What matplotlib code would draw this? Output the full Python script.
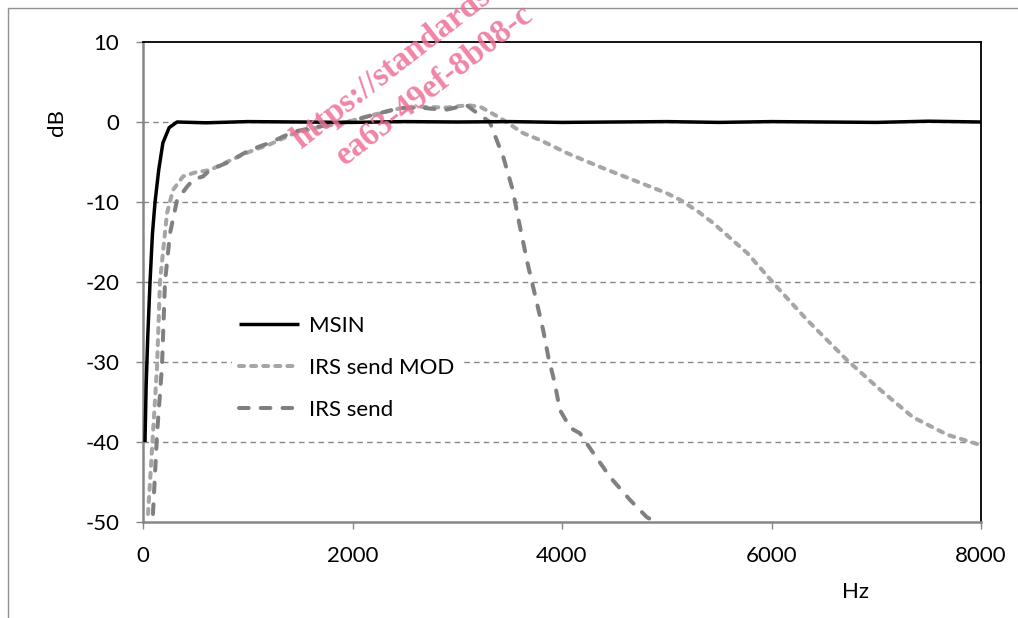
import matplotlib
matplotlib.use("Agg")
import matplotlib.pyplot as plt
from matplotlib.patches import Rectangle

plt.rcParams['font.family'] = ['Lato', 'DejaVu Sans']
plt.rcParams['axes.unicode_minus'] = False

# ---- data ----
msin_hz = [19, 30, 45, 67, 90, 115, 150, 190, 250, 325, 600, 1000, 1500, 2000, 2500, 3000,
           3500, 4000, 4500, 5000, 5500, 6000, 6500, 7000, 7500, 8000]
msin_db = [-40, -33, -27, -20, -14, -10, -6, -2.6, -0.7, 0, -0.1, 0.05, 0, -0.05, 0.05, 0,
           0.05, -0.05, 0, 0.05, -0.05, 0.05, 0, -0.05, 0.1, 0]

mod_hz = [48, 95, 134, 162, 229, 286, 382, 500, 640, 800, 1020, 1210, 1430, 1660, 1950,
          2200, 2450, 2650, 2900, 3100, 3220, 3410, 3630, 3790, 4050, 4360, 4680, 5000,
          5130, 5300, 5440, 5770, 6050, 6340, 6720, 7040, 7350, 7680, 8000]
mod_db = [-49, -39, -30.6, -20, -11.4, -8.5, -6.8, -6.3, -6.0, -5.0, -3.7, -2.8, -1.5, -0.7, 0,
          0.9, 1.7, 1.9, 1.8, 2.1, 1.9, 0.5, -1.4, -2.25, -3.9, -5.6, -7.25, -8.9,
          -9.75, -11.2, -12.6, -16.4, -20.6, -24.75, -29.75, -33.5, -36.9, -39.1, -40.4]

irs_hz = [95, 134, 181, 210, 258, 325, 420, 480, 573, 640, 800, 1020, 1210, 1430, 1660,
          1950, 2200, 2450, 2650, 2880, 3090, 3150, 3310, 3440, 3530, 3580, 3670, 3760,
          3820, 3870, 3930, 3980, 4080, 4170, 4300, 4460, 4650, 4810, 4860]
irs_db = [-49, -39, -30.6, -20, -13.9, -9.75, -8.1, -7.2, -6.8, -6.0, -5.1, -3.5, -2.6, -1.25,
          -0.6, 0, 0.9, 1.75, 1.8, 1.5, 2.1, 1.5, 0, -4.4, -8.5, -11.9, -17.6, -22.6,
          -26, -29.4, -32.6, -36, -38.25, -38.9, -41.4, -44.4, -47.25, -49.4, -49.75]

series_names = ["MSIN", "IRS send MOD", "IRS send"]
x_ticks = [0, 2000, 4000, 6000, 8000]
y_ticks = [-50, -40, -30, -20, -10, 0, 10]

W, H = 1018, 618
FS = 16
fig = plt.figure(figsize=(W / 100, H / 100), dpi=100)
ax = fig.add_axes([143 / W, 1 - 522 / H, (981 - 143) / W, (522 - 42) / H])

grid_c = '#868686'
ax.set_xlim(0, 8000)
ax.set_ylim(-50, 10)
for yv in y_ticks[1:-1]:
    ax.axhline(yv, color=grid_c, lw=1.0, dashes=(4, 3), zorder=1)

l1, = ax.plot(msin_hz, msin_db, color='black', lw=2.5, solid_capstyle='butt', zorder=4,
              label=series_names[0])
l2, = ax.plot(mod_hz, mod_db, color='#a6a6a6', lw=2.9, dashes=(1.25, 1.75),
              dash_capstyle='round', zorder=3, label=series_names[1])
l3, = ax.plot(irs_hz, irs_db, color='#808080', lw=2.9, dashes=(2.4, 3.0),
              dash_capstyle='round', zorder=3, label=series_names[2])

ax.set_xticks(x_ticks)
ax.set_yticks(y_ticks)
ax.tick_params(axis='both', direction='out', length=5, width=1, color=grid_c,
               labelsize=FS, labelcolor='black')
ax.tick_params(axis='y', pad=12)
ax.tick_params(axis='x', pad=12)

for s in ['left', 'bottom']:
    ax.spines[s].set_color(grid_c)
    ax.spines[s].set_linewidth(1.8)
for s in ['top', 'right']:
    ax.spines[s].set_color('black')
    ax.spines[s].set_linewidth(1.3)

fig.text(57 / W, 1 - 122 / H, 'dB', rotation=90, ha='center', va='center', fontsize=FS)
fig.text(855 / W, 1 - 592 / H, 'Hz', ha='center', va='center', fontsize=FS)

leg = ax.legend(handles=[l1, l2, l3], loc='upper left',
                bbox_to_anchor=((232 - 143) / 838, (522 - 309) / 480),
                frameon=True, facecolor='white', edgecolor='none', framealpha=1,
                fontsize=FS, handlelength=2.7, handletextpad=0.45, labelspacing=1.0,
                borderpad=0.3, borderaxespad=0, fancybox=False)
leg.set_zorder(5)

# outer frame
fig.patches.append(Rectangle((8 / W, -0.1), 1.2, 1 - 8 / H + 0.1, transform=fig.transFigure,
                             fill=False, edgecolor='#909090', lw=1.0))

# watermark
fig.text(286 / W, 1 - 155 / H, 'https://standards', rotation=38, color='#ee6f96', alpha=0.85,
         fontsize=24, family='Liberation Serif', fontweight='bold', ha='left', va='bottom')
fig.text(330 / W, 1 - 172 / H, 'ea63-49ef-8b08-c', rotation=38, color='#ee6f96', alpha=0.85,
         fontsize=24, family='Liberation Serif', fontweight='bold', ha='left', va='bottom')

fig.savefig('out.png', dpi=100)
